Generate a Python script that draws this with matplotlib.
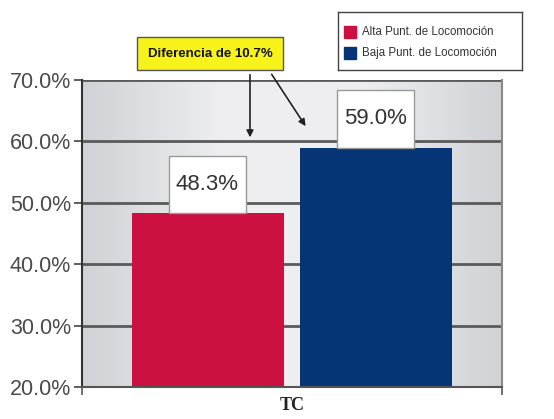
import numpy as np
import matplotlib
matplotlib.use("Agg")
import matplotlib.pyplot as plt
from matplotlib.colors import LinearSegmentedColormap

# data
category = "TC"
series = ["Alta Punt. de Locomoción", "Baja Punt. de Locomoción"]
values = [48.3, 59.0]
colors = ["#cc1040", "#053574"]
yticks = [20, 30, 40, 50, 60, 70]
note = "Diferencia de 10.7%"

plt.rcParams["font.family"] = ["Liberation Sans", "DejaVu Sans"]

fig = plt.figure(figsize=(5.54, 4.19), dpi=100)
ax = fig.add_axes([82 / 554, 1 - 387 / 419, 420 / 554, 307 / 419])
ax.set_xlim(-0.5, 0.5)
ax.set_ylim(20, 70)

# gradient background
grad = LinearSegmentedColormap.from_list(
    "bg", ["#cfd2d6", "#eeeef0", "#eeeef0", "#cfd2d6"])
ax.imshow(np.linspace(0, 1, 256)[None, :], cmap=grad, aspect="auto",
          extent=(-0.5, 0.5, 20, 70), zorder=0)

for y in yticks:
    ax.axhline(y, color="#5a5a5a", lw=2.0, zorder=1)

offsets = [-0.2, 0.2]
width = 0.36
ax.bar(offsets, [v - 20 for v in values], bottom=20, width=width,
       color=colors, zorder=2)

# value boxes sitting on the bars
box_w, box_h = 0.183, 9.3
for x, v in zip(offsets, values):
    ax.add_patch(plt.Rectangle((x - 0.002 - box_w / 2, v), box_w, box_h,
                               fc="white", ec="#999999", lw=1.0, zorder=4))
    ax.text(x - 0.002, v + box_h / 2, f"{v:.1f}%", ha="center",
            va="center", fontsize=16, color="#333333", zorder=5)

# annotation box and arrows
ax.text(-0.195, 74.3, note, ha="center", va="center", fontsize=9.5,
        fontweight="bold", color="#111111", clip_on=False, zorder=5,
        bbox=dict(boxstyle="square,pad=0.8", fc="#f7f21a", ec="#555555",
                  lw=1.0))
ax.annotate("", xy=(-0.1, 60.2), xytext=(-0.1, 71.3),
            arrowprops=dict(arrowstyle="-|>", color="#222222", lw=1.2,
                            mutation_scale=10), annotation_clip=False,
            zorder=5)
ax.annotate("", xy=(0.036, 62.1), xytext=(-0.052, 71.3),
            arrowprops=dict(arrowstyle="-|>", color="#222222", lw=1.2,
                            mutation_scale=10), annotation_clip=False,
            zorder=5)

ax.set_yticks(yticks)
ax.set_yticklabels([f"{y:.1f}%" for y in yticks], fontsize=15.5,
                   color="#4a4a4a")
ax.set_xticks([-0.5, 0.5])
ax.set_xticklabels(["", ""])
ax.tick_params(axis="y", direction="out", length=6, width=1.2,
               color="#444444", pad=2)
ax.tick_params(axis="x", direction="out", length=6, width=1.2,
               color="#555555")
ax.spines["top"].set_visible(False)
ax.spines["left"].set_color("#333333")
ax.spines["left"].set_linewidth(1.5)
ax.spines["bottom"].set_color("#555555")
ax.spines["bottom"].set_linewidth(1.5)
ax.spines["right"].set_color("#888888")
ax.spines["right"].set_linewidth(1.5)

fig.text(292 / 554, 1 - 405 / 419, category, ha="center", va="center",
         fontsize=13, fontweight="bold", family="Liberation Serif",
         color="#222222")

# legend
leg_ax = fig.add_axes([338 / 554, 1 - 70 / 419, 184 / 554, 58 / 419])
leg_ax.set_xlim(0, 184)
leg_ax.set_ylim(58, 0)
leg_ax.set_xticks([])
leg_ax.set_yticks([])
for s in leg_ax.spines.values():
    s.set_color("#444444")
    s.set_linewidth(1.0)
for i, (name, c) in enumerate(zip(series, colors)):
    yc = 20 + i * 21
    leg_ax.add_patch(plt.Rectangle((6, yc - 6), 12, 12, color=c))
    leg_ax.text(24, yc, name, va="center", ha="left", fontsize=8.3,
                color="#333333")

fig.savefig("out.png", dpi=100)
